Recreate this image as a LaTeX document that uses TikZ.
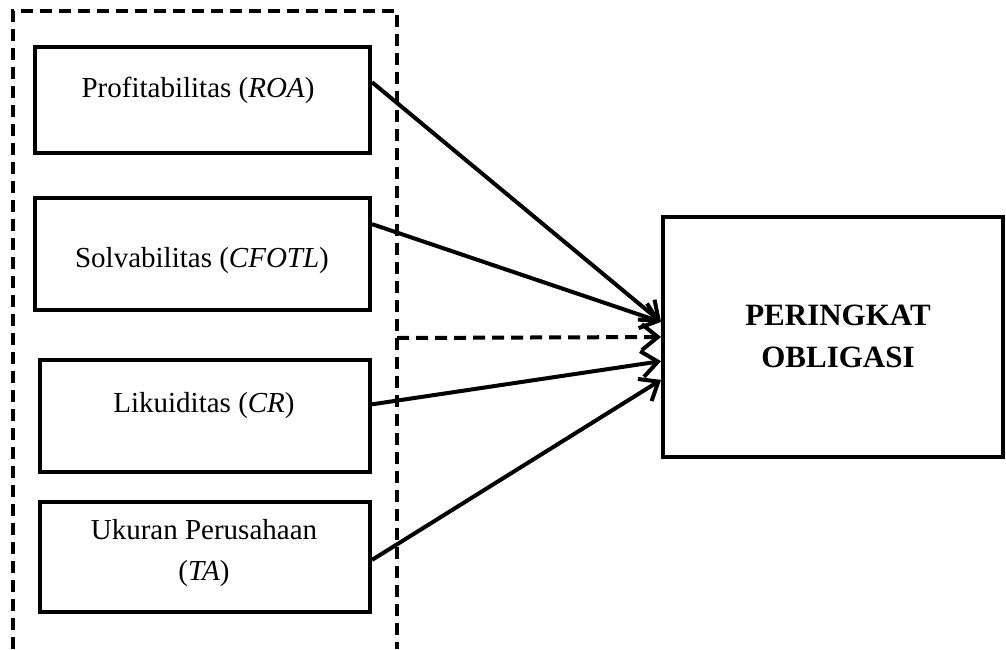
\documentclass[tikz,border=0pt]{standalone}
\usepackage{fontspec}
\setmainfont{Liberation Serif}
\usetikzlibrary{arrows.meta}

\tikzset{
  kotak/.style={draw, line width=2pt, rectangle, inner sep=0pt, fill=white},
  teks/.style={font=\fontsize{14.5}{20.5}\selectfont, align=center, inner sep=0pt},
  panah/.style={line width=2pt, -{Straight Barb[length=8pt,width=13pt]}},
  putus/.style={line width=2pt, dash pattern=on 6pt off 3.5pt}
}

\begin{document}
\begin{tikzpicture}[x=0.5pt,y=-0.5pt]
\useasboundingbox (0,0) rectangle (1006,649);

%kerangka putus-putus
\draw[putus] (13,649)--(13,11)--(397,11)--(397,649);

%variabel independen
\node[kotak, minimum width=167.5pt, minimum height=53pt] (roa) at (202.5,100) {};
\node[kotak, minimum width=167.5pt, minimum height=56pt] (cfotl) at (202.5,254) {};
\node[kotak, minimum width=165pt, minimum height=56pt] (cr) at (205,416) {};
\node[kotak, minimum width=165pt, minimum height=55pt] (ta) at (205,557) {};

\node[teks, anchor=base] (roat) at (198,97) {Profitabilitas (\textit{ROA})};
\node[teks, anchor=base] (cfotlt) at (202,267) {Solvabilitas (\textit{CFOTL})};
\node[teks, anchor=base] (crt) at (204,412) {Likuiditas (\textit{CR})};
\node[teks] (tat) at (204,553) {Ukuran Perusahaan\\(\textit{TA})};

%variabel dependen
\node[kotak, minimum width=170pt, minimum height=120pt] (rating) at (833,337) {};
\node[teks, font=\fontsize{15.5}{21}\selectfont\bfseries] (ratingt) at (838,336) {PERINGKAT\\OBLIGASI};

%panah
\draw[panah] (roa.6) -- (rating.175);
\draw[panah] (cfotl.10) -- (rating.175);
\draw[panah] (cr.4) -- (rating.188);
\draw[panah] (ta.-1) -- (rating.194);

\coordinate (cabang) at (397,338);
\draw[putus, -{Straight Barb[length=8pt,width=13pt]}] (cabang) -- (rating.west);

\end{tikzpicture}
\end{document}
